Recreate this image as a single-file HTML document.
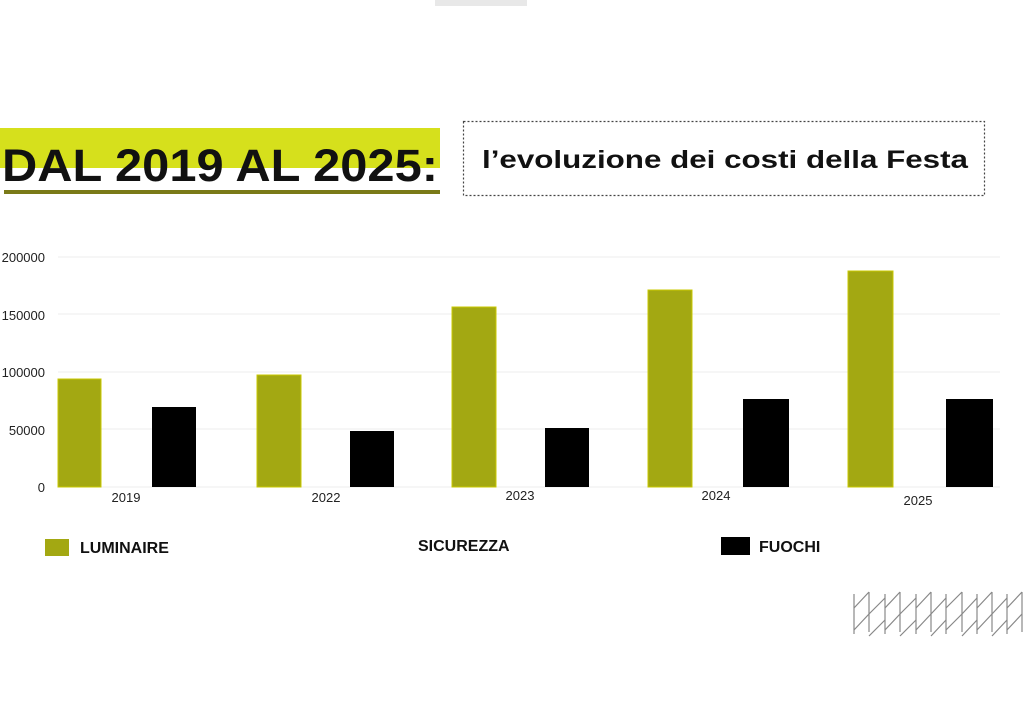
<!DOCTYPE html>
<html><head><meta charset="utf-8"><style>
html,body{margin:0;padding:0;background:#fff;width:1024px;height:706px;overflow:hidden}
</style></head><body>
<svg width="1024" height="706" xmlns="http://www.w3.org/2000/svg" font-family="Liberation Sans, DejaVu Sans, sans-serif">
<rect width="1024" height="706" fill="#fff"/>
<rect x="435" y="0" width="92" height="6" fill="#e8e8e8"/>
<rect x="0" y="128" width="440" height="40" fill="#d6e01c"/>
<rect x="4" y="190" width="436" height="4" fill="#7a7a18"/>
<text x="2" y="181" font-size="45" font-weight="bold" fill="#111" textLength="436" lengthAdjust="spacingAndGlyphs">DAL 2019 AL 2025:</text>
<rect x="463.5" y="121.5" width="521" height="74" fill="#fff" stroke="#444" stroke-width="1.2" stroke-dasharray="2,2"/>
<text x="482" y="168" font-size="25" font-weight="bold" fill="#111" textLength="486" lengthAdjust="spacingAndGlyphs">l’evoluzione dei costi della Festa</text>
<g stroke="#eee" stroke-width="1">
<line x1="58" y1="257" x2="1000" y2="257"/><line x1="58" y1="314" x2="1000" y2="314"/>
<line x1="58" y1="372" x2="1000" y2="372"/><line x1="58" y1="429" x2="1000" y2="429"/>
<line x1="58" y1="487" x2="1000" y2="487"/>
</g>
<g font-size="13" fill="#222" text-anchor="end">
<text x="45" y="262">200000</text><text x="45" y="320">150000</text>
<text x="45" y="377">100000</text><text x="45" y="435">50000</text><text x="45" y="492">0</text>
</g>
<g fill="#a3a812" stroke="#c8c800" stroke-width="1">
<rect x="58" y="379" width="43" height="108"/>
<rect x="257" y="375" width="44" height="112"/>
<rect x="452" y="307" width="44" height="180"/>
<rect x="648" y="290" width="44" height="197"/>
<rect x="848" y="271" width="45" height="216"/>
</g>
<g fill="#000">
<rect x="152" y="407" width="44" height="80"/>
<rect x="350" y="431" width="44" height="56"/>
<rect x="545" y="428" width="44" height="59"/>
<rect x="743" y="399" width="46" height="88"/>
<rect x="946" y="399" width="47" height="88"/>
</g>
<g font-size="13" fill="#222" text-anchor="middle">
<text x="126" y="502">2019</text><text x="326" y="502">2022</text><text x="520" y="500">2023</text>
<text x="716" y="500">2024</text><text x="918" y="505">2025</text>
</g>
<rect x="45" y="539" width="24" height="17" fill="#a3a812"/>
<text x="80" y="553" font-size="16" font-weight="bold" fill="#111">LUMINAIRE</text>
<text x="418" y="551" font-size="16" font-weight="bold" fill="#111">SICUREZZA</text>
<rect x="721" y="537" width="29" height="18" fill="#000"/>
<text x="759" y="552" font-size="16" font-weight="bold" fill="#111">FUOCHI</text>
<g stroke="#888" stroke-width="1.2" fill="none">
<path d="M854 594v40M869 592v40M885 594v40M900 592v40M916 594v40M931 592v40M946 594v40M962 592v40M977 594v40M992 592v40M1007 594v40M1022 592v40"/>
<path d="M854 630l15-16M854 608l15-16M869 614l16-16M869 636l16-16M885 630l15-16M885 608l15-16M900 614l16-16M900 636l16-16M916 630l15-16M916 608l15-16M931 614l15-16M931 636l15-16M946 630l16-16M946 608l16-16M962 614l15-16M962 636l15-16M977 630l15-16M977 608l15-16M992 614l15-16M992 636l15-16M1007 630l15-16M1007 608l15-16"/>
</g>
</svg>
</body></html>
